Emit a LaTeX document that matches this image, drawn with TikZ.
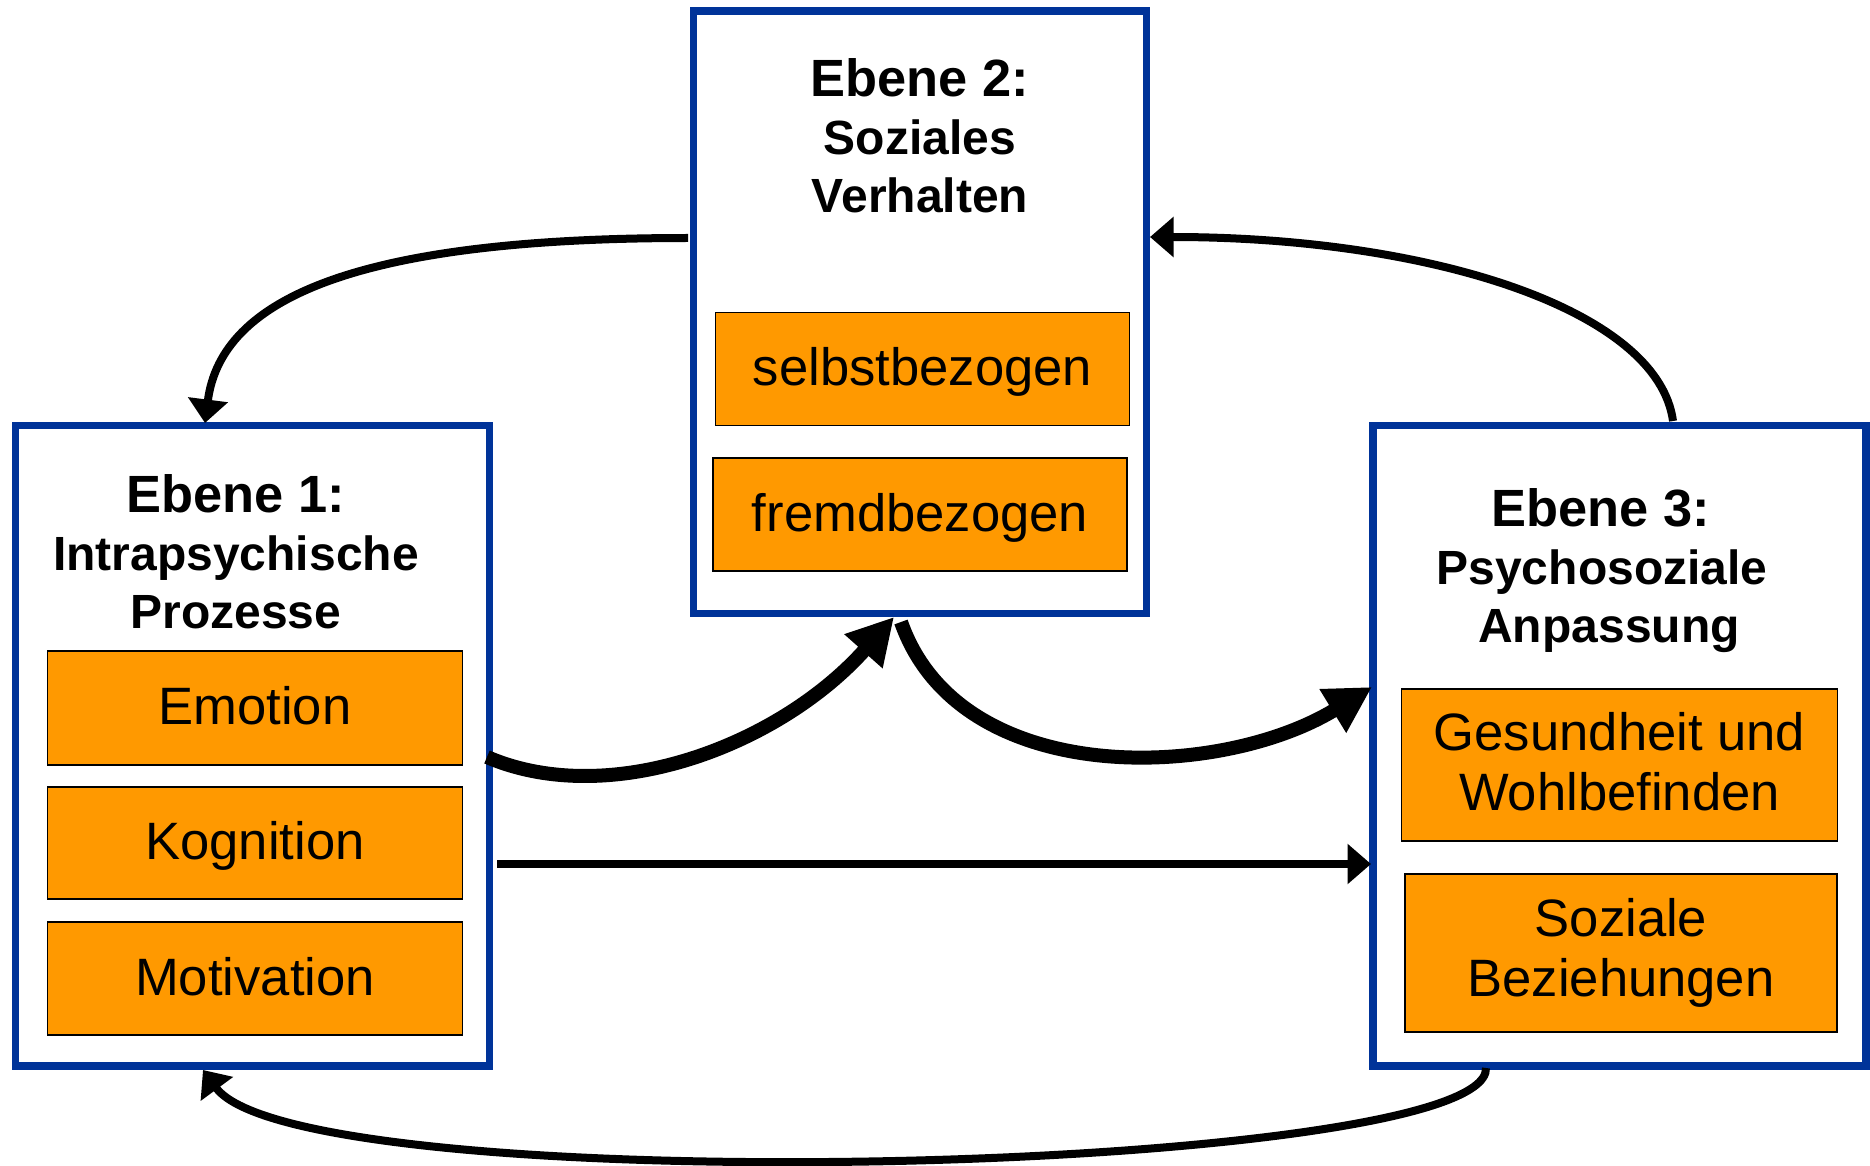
\documentclass[tikz,border=0pt]{standalone}
\usepackage{fontspec}
\setmainfont{Liberation Sans}
\usetikzlibrary{arrows.meta,calc}
\definecolor{bblue}{RGB}{0,51,153}
\definecolor{orng}{RGB}{255,153,0}
\begin{document}
\begin{tikzpicture}[x=0.5pt,y=-0.5pt,
  level/.style={draw=bblue, line width=3.6pt, fill=white, inner sep=0pt, outer sep=0pt},
  item/.style={draw=black, line width=0.8pt, fill=orng, inner sep=0pt, outer sep=0pt, align=center, font=\fontsize{26.3}{30}\selectfont},
  itemone/.style={item, text height=19.4pt, text depth=2.6pt},
  lvltitle/.style={anchor=base, inner sep=0pt, font=\bfseries\fontsize{26.2}{30}\selectfont},
  lvlsub/.style={anchor=base, inner sep=0pt, font=\bfseries\fontsize{24}{28}\selectfont},
  smallarrow/.style={line width=4pt, -{Triangle[length=11.75pt,width=19.5pt]}},
  bigarrow/.style={line width=7pt, -{Triangle[length=23pt,width=24pt]}},
]
\useasboundingbox (0,0) rectangle (1870,1166);

% level boxes
\node[level, minimum width=237pt, minimum height=320.25pt] (e1) at (252.5,745.75) {};
\node[level, minimum width=226.5pt, minimum height=301.25pt] (e2) at (920,312.25) {};
\node[level, minimum width=246.5pt, minimum height=320.25pt] (e3) at (1619.5,745.75) {};

% titles
\node[lvltitle] (t1a) at (236,512) {Ebene 1:};
\node[lvlsub] (t1b) at (236,570) {Intrapsychische};
\node[lvlsub] (t1c) at (236,628) {Prozesse};
\node[lvltitle] (t2a) at (920,97) {Ebene 2:};
\node[lvlsub] (t2b) at (920,155) {Soziales};
\node[lvlsub] (t2c) at (920,213) {Verhalten};
\node[lvltitle] (t3a) at (1601,526) {Ebene 3:};
\node[lvlsub] (t3b) at (1602,584) {Psychosoziale};
\node[lvlsub] (t3c) at (1609,642) {Anpassung};

% items
\node[itemone, minimum width=207.5pt, minimum height=57pt] (emo) at (255,708) {Emotion};
\node[itemone, minimum width=207.5pt, minimum height=56pt] (kog) at (255,843) {Kognition};
\node[itemone, minimum width=207.5pt, minimum height=56.5pt] (mot) at (255,978.5) {Motivation};
\node[itemone, minimum width=207pt, minimum height=56.5pt] (sel) at (922.5,369) {selbstbezogen};
\node[itemone, minimum width=207pt, minimum height=56.5pt] (fre) at (920,514.5) {fremdbezogen};
\node[item, minimum width=218pt, minimum height=76pt, text depth=4pt] (ges) at (1619.5,765) {Gesundheit und\\Wohlbefinden};
\node[item, minimum width=216pt, minimum height=79pt] (soz) at (1621,953) {Soziale\\Beziehungen};

% connectors
\draw[smallarrow] ($(e2.north west)+(-5.5,227)$) .. controls (358,238) and (221,298) .. ($(e1.north west)+(189.5,-2.5)$);
\draw[smallarrow] ($(e3.north west)+(300,-4.5)$) .. controls (1658,310) and (1431,237) .. ($(e2.north east)+(3.5,226)$);
\draw[smallarrow] ($(e3.south west)+(113,2)$) .. controls (1490,1175) and (301,1203) .. ($(e1.south west)+(187.5,4)$);
\draw[bigarrow] ($(e1.north east)+(-2.5,331.5)$) .. controls (610,810) and (780,745) .. ($(e2.south west)+(200.5,3.5)$);
\draw[bigarrow] ($(e2.south west)+(207.5,8.5)$) .. controls (960,790) and (1220,780) .. ($(e3.north west)+(-1,261.5)$);
\draw[smallarrow] ($(e1.north east)+(7.5,438.5)$) -- ($(e3.north west)+(-2,438.5)$);
\end{tikzpicture}
\end{document}
